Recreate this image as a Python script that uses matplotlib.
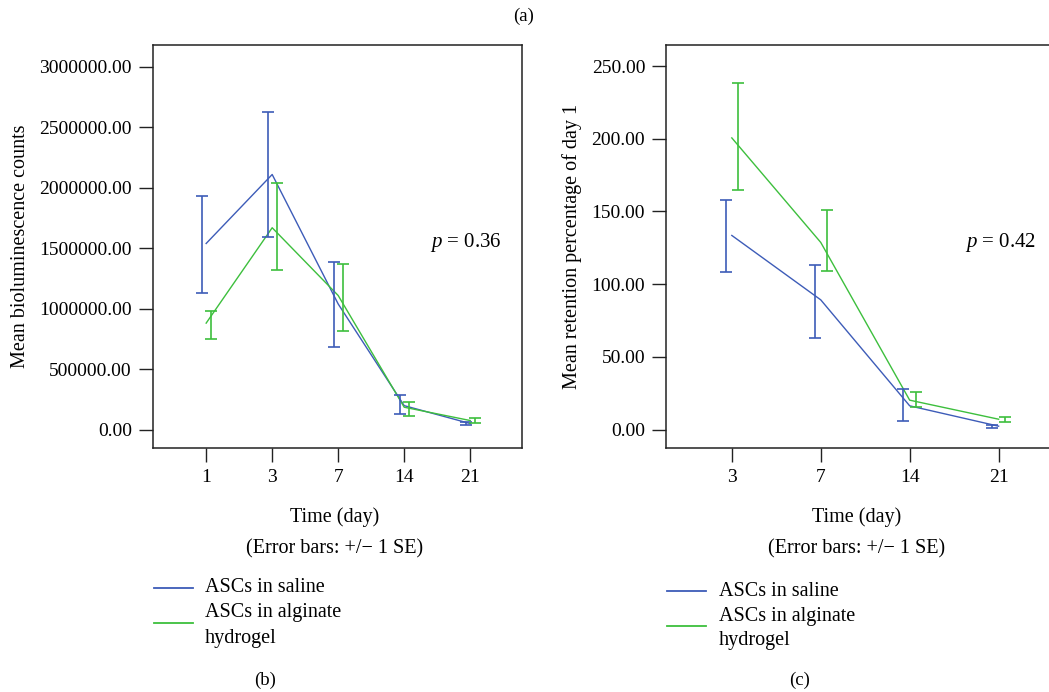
import numpy as np
import matplotlib
matplotlib.use("Agg")
import matplotlib.pyplot as plt
from matplotlib.lines import Line2D

plt.rcParams['font.family'] = ['Liberation Serif', 'DejaVu Serif']
plt.rcParams['mathtext.fontset'] = 'custom'
plt.rcParams['mathtext.rm'] = 'Liberation Serif'
plt.rcParams['mathtext.it'] = 'Liberation Serif:italic'

# Panel (b): bioluminescence counts
days_b = ['1', '3', '7', '14', '21']
saline_b = [1540000, 2110000, 1040000, 200000, 52000]
saline_b_lo = [1130000, 1590000, 683000, 132000, 42000]
saline_b_hi = [1930000, 2630000, 1387000, 290000, 62000]
gel_b = [882000, 1670000, 1110000, 187000, 77000]
gel_b_lo = [753000, 1318000, 820000, 116000, 58000]
gel_b_hi = [980000, 2040000, 1373000, 228000, 96000]

# Panel (c): retention percentage of day 1
days_c = ['3', '7', '14', '21']
saline_c = [133.5, 89.2, 16.3, 2.3]
saline_c_lo = [108.7, 62.7, 6.0, 1.3]
saline_c_hi = [158.1, 113.1, 27.6, 3.3]
gel_c = [200.6, 128.7, 20.2, 7.1]
gel_c_lo = [164.5, 108.9, 15.2, 5.0]
gel_c_hi = [238.6, 150.7, 25.9, 8.7]

blue = '#3d5cb8'
green = '#3dbf3d'
W, H = 1049, 692


def fx(px):
    return px / W


def fy(py):
    return 1 - py / H


def panel(ax, days, s, slo, shi, g, glo, ghi, xlim, ylim, yticks, ylabel, ptext):
    x = np.arange(len(days))
    ax.plot(x, s, color=blue, lw=1.0)
    ax.plot(x, g, color=green, lw=1.0)
    s, slo, shi = map(np.array, (s, slo, shi))
    g, glo, ghi = map(np.array, (g, glo, ghi))
    ax.errorbar(x - 0.07, s, yerr=[s - slo, shi - s], fmt='none', ecolor=blue,
                elinewidth=1.2, capsize=4, capthick=1.2)
    ax.errorbar(x + 0.07, g, yerr=[g - glo, ghi - g], fmt='none', ecolor=green,
                elinewidth=1.2, capsize=4, capthick=1.2)
    ax.set_xlim(*xlim)
    ax.set_ylim(*ylim)
    ax.set_xticks(x)
    ax.set_xticklabels(days)
    ax.set_yticks(yticks)
    ax.set_yticklabels(['%.2f' % v for v in yticks])
    ax.tick_params(direction='out', length=10, width=1, labelsize=14, pad=5,
                   color='#222222')
    for sp in ax.spines.values():
        sp.set_linewidth(1.1)
        sp.set_color('#222222')
    ax.set_ylabel(ylabel, fontsize=14.5, labelpad=7)
    ax.text(0.85, 0.51, ptext, transform=ax.transAxes, fontsize=15,
            ha='center', va='center')


fig = plt.figure(figsize=(W / 100, H / 100), dpi=100)

ax1 = fig.add_axes([fx(152.7), fy(448), fx(521.7 - 152.7), (448 - 45) / H])
panel(ax1, days_b, saline_b, saline_b_lo, saline_b_hi, gel_b, gel_b_lo, gel_b_hi,
      (-0.81, 4.78), (-150000, 3180000),
      [0, 500000, 1000000, 1500000, 2000000, 2500000, 3000000],
      'Mean bioluminescence counts', '$p$ = 0.36')

ax2 = fig.add_axes([fx(666), fy(448), fx(1060 - 666), (448 - 45) / H])
panel(ax2, days_c, saline_c, saline_c_lo, saline_c_hi, gel_c, gel_c_lo, gel_c_hi,
      (-0.74, 3.69), (-12.7, 264.5),
      [0, 50, 100, 150, 200, 250],
      'Mean retention percentage of day 1', '$p$ = 0.42')

fs = 14.5
fig.text(fx(524), fy(16), '(a)', ha='center', va='center', fontsize=13.5)
for cx, lx, tx, lab in [(335, 154, 205, '(b)'), (857, 667, 719, '(c)')]:
    fig.text(fx(cx), fy(517), 'Time (day)', ha='center', va='center', fontsize=fs)
    fig.text(fx(cx), fy(549), '(Error bars: +/\u2212 1 SE)', ha='center', va='center', fontsize=fs)
    dy = 0 if lab == '(b)' else 3
    fig.add_artist(Line2D([fx(lx), fx(lx + 39)], [fy(588 + dy)] * 2, color=blue, lw=1.3))
    fig.add_artist(Line2D([fx(lx), fx(lx + 39)], [fy(623 + dy)] * 2, color=green, lw=1.3))
    fig.text(fx(tx), fy(588 + dy), 'ASCs in saline', va='center', fontsize=fs)
    fig.text(fx(tx), fy(613 + dy), 'ASCs in alginate', va='center', fontsize=fs)
    fig.text(fx(tx), fy(638 + dy), 'hydrogel', va='center', fontsize=fs)
    fig.text(fx(265 if lab == '(b)' else 800), fy(680), lab, ha='center', va='center', fontsize=13.5)

fig.savefig('out.png', dpi=100)
